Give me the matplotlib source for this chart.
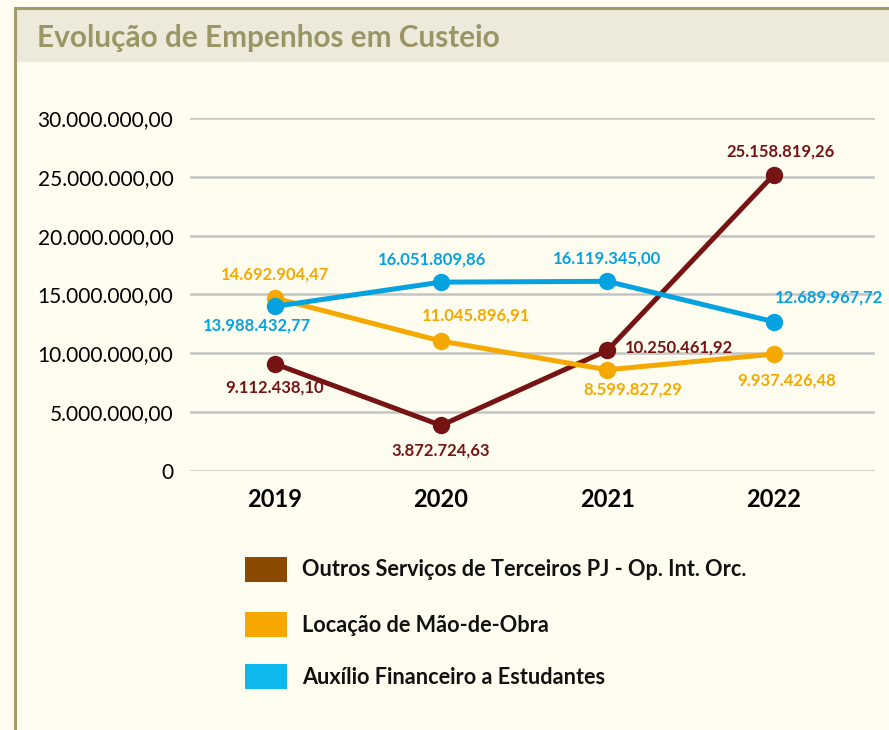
import matplotlib
matplotlib.use('Agg')
import matplotlib.pyplot as plt
from matplotlib.patches import Rectangle
from matplotlib.lines import Line2D

plt.rcParams['font.family'] = ['Lato', 'DejaVu Sans']

years = ['2019', '2020', '2021', '2022']
outros = [9112438.10, 3872724.63, 10250461.92, 25158819.26]
locacao = [14692904.47, 11045896.91, 8599827.29, 9937426.48]
auxilio = [13988432.77, 16051809.86, 16119345.00, 12689967.72]
series_names = ['Outros Serviços de Terceiros PJ - Op. Int. Orc.',
                'Locação de Mão-de-Obra',
                'Auxílio Financeiro a Estudantes']
yticks = [0, 5e6, 10e6, 15e6, 20e6, 25e6, 30e6]

line_colors = ['#761414', '#F5A800', '#05A2E2']
legend_colors = ['#8C4A00', '#F7A800', '#0DB8EE']

# label offsets in pixels, relative to each point
offsets = {
    'outros': [(0, -24), (0, -25), (72, 3), (7, 23)],
    'locacao': [(0, 24), (35, 26), (25, -20), (13, -26)],
    'auxilio': [(-18, -19), (-9, 23), (0, 23), (55, 24)],
}


def fmt_br(v, dec=2):
    s = f'{v:,.{dec}f}'
    return s.replace(',', '#').replace('.', ',').replace('#', '.')


bg = '#FFFDF0'
fig = plt.figure(figsize=(8.89, 7.30), dpi=100, facecolor=bg)

# frame and title bar
fig.add_artist(Rectangle((16 / 889, 1 - 62 / 730), 1, 53 / 730,
                         transform=fig.transFigure, facecolor='#EDEADC',
                         edgecolor='none'))
fig.add_artist(Line2D([15 / 889, 15 / 889], [0, 1 - 8 / 730],
                      transform=fig.transFigure, color='#A19B6B', lw=2.2))
fig.add_artist(Line2D([15 / 889, 1], [1 - 8 / 730, 1 - 8 / 730],
                      transform=fig.transFigure, color='#A19B6B', lw=2.2))
fig.text(37 / 889, 1 - 38 / 730, 'Evolução de Empenhos em Custeio',
         fontsize=21.4, fontweight='bold', color='#9B9565', va='center')

ax = fig.add_axes([190 / 889, 1 - 471 / 730, 685 / 889, 353 / 730])
ax.set_facecolor(bg)
x = list(range(len(years)))
data = {'outros': outros, 'locacao': locacao, 'auxilio': auxilio}
for (key, vals), c in zip(data.items(), line_colors):
    ax.plot(x, vals, color=c, lw=3.6, marker='o', ms=11.5, clip_on=False,
            solid_capstyle='round', zorder=3)
    for i, v in enumerate(vals):
        dx, dy = offsets[key][i]
        ax.annotate(fmt_br(v), (x[i], v), xytext=(dx, dy),
                    textcoords='offset pixels', ha='center', va='center',
                    fontsize=12, fontweight='bold', color=c, zorder=4)

ax.set_xlim(-0.51, 3.61)
ax.set_ylim(0, 30e6)
ax.set_yticks(yticks)
ax.set_yticklabels(['0'] + [fmt_br(v) for v in yticks[1:]], fontsize=15)
ax.set_xticks(x)
ax.set_xticklabels(years, fontsize=17, fontweight='bold')
ax.grid(axis='y', color='#C4C4C4', lw=1.8)
ax.set_axisbelow(True)
for s in ax.spines.values():
    s.set_visible(False)
ax.tick_params(axis='both', length=0)
ax.tick_params(axis='y', pad=12)
ax.tick_params(axis='x', pad=12)

# legend
rows = [570, 625, 677]
for name, c, yc in zip(series_names, legend_colors, rows):
    fig.add_artist(Rectangle((245 / 889, 1 - (yc + 12) / 730), 42 / 889, 25 / 730,
                             transform=fig.transFigure, facecolor=c,
                             edgecolor='none'))
    fig.text(302 / 889, 1 - yc / 730, name, fontsize=15.6, fontweight='bold',
             color='#111111', va='center')

fig.savefig('out.png', dpi=100, facecolor=bg)
